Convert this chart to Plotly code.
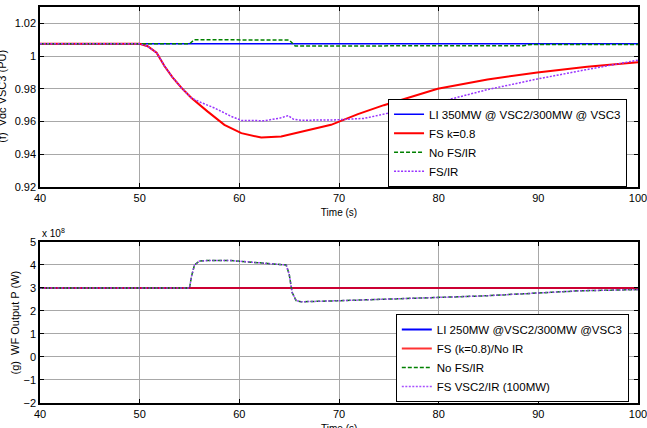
import plotly.graph_objects as go

# ---------- data (top panel: Vdc VSC3, PU) ----------
t_li_f = [40, 100]
v_li_f = [1.0075, 1.0075]

t_nofs_f = [40, 55.0, 55.5, 61.5, 62.0, 65.0, 65.6, 75, 88.5, 89.0, 100]
v_nofs_f = [1.0075, 1.0075, 1.0100, 1.0100, 1.0098, 1.0098, 1.0062, 1.0062, 1.0063, 1.0070, 1.0071]

t_fs_f = [40, 50, 50.8, 51.7, 52.5, 53.3, 54.2, 55.2, 56.8, 58.5, 60.2, 62.2, 64.2,
          66.5, 69.2, 71.9, 74.5, 79.9, 84.9, 89.9, 94.9, 100]
v_fs_f = [1.0075, 1.0075, 1.006, 1.002, 0.9938, 0.987, 0.9806, 0.9744, 0.9662, 0.958,
          0.9529, 0.9502, 0.9509, 0.954, 0.958, 0.9645, 0.970, 0.980, 0.9857, 0.990,
          0.9935, 0.9963]

t_fsir_f = [40, 50, 50.8, 51.7, 52.5, 53.3, 54.2, 55.2, 56.2, 57.5, 59.2, 60.2, 62.5,
            64.0, 64.9, 65.4, 66.2, 69.5, 72.5, 74.5, 79.9, 84.9, 89.9, 94.9, 100]
v_fsir_f = [1.0075, 1.0075, 1.006, 1.002, 0.9938, 0.987, 0.9806, 0.9744, 0.9715,
            0.9683, 0.9631, 0.9607, 0.9605, 0.962, 0.9636, 0.9615, 0.9608, 0.961,
            0.9619, 0.9645, 0.9717, 0.9795, 0.986, 0.9918, 0.9975]

# ---------- data (bottom panel: WF output P, W) ----------
t_li_g = [40, 100]
p_li_g = [3.0e8, 3.0e8]
t_fs_g = [40, 100]
p_fs_g = [3.0e8, 3.0e8]
t_ir_g = [40, 55.0, 55.2, 55.5, 56.0, 57, 59, 60.5, 62.2, 64.7, 65.0, 65.3, 65.7,
          66.2, 69.5, 74.2, 79.9, 84.2, 89.9, 94.2, 100]
p_ir_g = [3.0e8, 3.0e8, 3.5e8, 4.0e8, 4.17e8, 4.2e8, 4.2e8, 4.15e8, 4.09e8, 4.0e8,
          3.6e8, 2.8e8, 2.45e8, 2.4e8, 2.44e8, 2.5e8, 2.57e8, 2.65e8, 2.78e8,
          2.88e8, 2.93e8]
SCALE = 1e8

x_ticks = [40, 50, 60, 70, 80, 90, 100]
f_ticks = [0.92, 0.94, 0.96, 0.98, 1.0, 1.02]
f_tick_text = ["0.92", "0.94", "0.96", "0.98", "1", "1.02"]
g_ticks = [-2, -1, 0, 1, 2, 3, 4, 5]

BLUE = "#0000FF"
RED = "#FF0000"
GREEN = "#008000"
PURPLE = "#9933FF"
FONT = "Liberation Sans, Arial, sans-serif"

fig = go.Figure()

# top panel
fig.add_trace(go.Scatter(x=t_li_f, y=v_li_f, mode="lines", name="LI 350MW @ VSC2/300MW @ VSC3",
                         line=dict(color=BLUE, width=1.5), xaxis="x", yaxis="y", legend="legend"))
fig.add_trace(go.Scatter(x=t_fs_f, y=v_fs_f, mode="lines", name="FS k=0.8",
                         line=dict(color=RED, width=2), xaxis="x", yaxis="y", legend="legend"))
fig.add_trace(go.Scatter(x=t_nofs_f, y=v_nofs_f, mode="lines", name="No FS/IR",
                         line=dict(color=GREEN, width=1.5, dash="4px,2px"), xaxis="x", yaxis="y",
                         legend="legend"))
fig.add_trace(go.Scatter(x=t_fsir_f, y=v_fsir_f, mode="lines", name="FS/IR",
                         line=dict(color=PURPLE, width=1.5, dash="2px,1.5px"), xaxis="x", yaxis="y",
                         legend="legend"))

# bottom panel
fig.add_trace(go.Scatter(x=t_li_g, y=[p / SCALE for p in p_li_g], mode="lines",
                         name="LI 250MW @VSC2/300MW @VSC3",
                         line=dict(color=BLUE, width=2), xaxis="x2", yaxis="y2", legend="legend2"))
fig.add_trace(go.Scatter(x=t_fs_g, y=[p / SCALE for p in p_fs_g], mode="lines",
                         name="FS (k=0.8)/No IR",
                         line=dict(color=RED, width=2), opacity=0.8, xaxis="x2", yaxis="y2",
                         legend="legend2"))
fig.add_trace(go.Scatter(x=t_ir_g, y=[p / SCALE for p in p_ir_g], mode="lines",
                         name="No FS/IR",
                         line=dict(color=GREEN, width=1.5, dash="4px,2px"), xaxis="x2", yaxis="y2",
                         legend="legend2"))
fig.add_trace(go.Scatter(x=t_ir_g, y=[p / SCALE for p in p_ir_g], mode="lines",
                         name="FS VSC2/IR (100MW)",
                         line=dict(color=PURPLE, width=1.5, dash="2px,1.5px"), opacity=0.85,
                         xaxis="x2", yaxis="y2", legend="legend2"))

axis_common = dict(
    showline=True, linecolor="black", linewidth=1.5, mirror="ticks",
    ticks="inside", ticklen=4, tickcolor="black",
    showgrid=True, gridcolor="#A8A8A8", gridwidth=1,
    zeroline=False, automargin=False, ticklabeloverflow="allow",
    tickfont=dict(family=FONT, size=11, color="black"),
)

legend_common = dict(
    bgcolor="white", bordercolor="black", borderwidth=1,
    font=dict(family=FONT, size=11.5, color="black"),
    xanchor="left", yanchor="top", tracegroupgap=0, itemwidth=30,
)

fig.update_layout(
    width=647, height=428,
    margin=dict(l=40, r=9, t=7, b=25),
    paper_bgcolor="white", plot_bgcolor="white",
    font=dict(family=FONT, size=11, color="black"),
    xaxis=dict(domain=[0, 1], range=[40, 100], tickvals=x_ticks, anchor="y",
               title=dict(text="Time (s)", font=dict(size=10), standoff=6), **axis_common),
    yaxis=dict(domain=[0.5455, 1], range=[0.92, 1.03], tickvals=f_ticks, ticktext=f_tick_text,
               anchor="x", **axis_common),
    xaxis2=dict(domain=[0, 1], range=[40, 100], tickvals=x_ticks, anchor="y2", **axis_common),
    yaxis2=dict(domain=[0, 0.4066], range=[-2, 5], tickvals=g_ticks, anchor="x2", **axis_common),
    legend=dict(x=0.582, y=0.768, **legend_common),
    legend2=dict(x=0.595, y=0.225, **legend_common),
    annotations=[
        dict(text="(f)  Vdc VSC3 (PU)", xref="paper", yref="paper", x=-0.064, y=0.775,
             textangle=-90, showarrow=False, font=dict(family=FONT, size=11),
             xanchor="center", yanchor="middle"),
        dict(text="(g)  WF Output P (W)", xref="paper", yref="paper", x=-0.0418, y=0.2033,
             textangle=-90, showarrow=False, font=dict(family=FONT, size=11),
             xanchor="center", yanchor="middle"),
        dict(text="x 10<sup>8</sup>", xref="paper", yref="paper", x=0.0, y=0.41,
             showarrow=False, font=dict(family=FONT, size=10),
             xanchor="left", yanchor="bottom"),
        dict(text="Time (s)", xref="paper", yref="paper", x=0.5, y=-0.045,
             showarrow=False, font=dict(family=FONT, size=10),
             xanchor="center", yanchor="top"),
    ],
)

fig.write_html("out.html")
